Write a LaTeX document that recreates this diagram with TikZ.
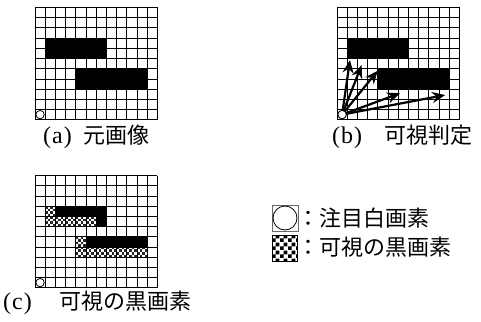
\documentclass[tikz,border=0pt]{standalone}
\usepackage{fontspec}
\newfontfamily\jp{Noto Sans CJK JP}
\newfontfamily\lat{Liberation Serif}
\usetikzlibrary{patterns,arrows.meta}
\pgfdeclarepatternformonly{bigcheck}{\pgfpointorigin}{\pgfqpoint{8pt}{8pt}}{\pgfqpoint{8pt}{8pt}}{%
 \pgfpathrectangle{\pgfpointorigin}{\pgfqpoint{4pt}{4pt}}%
 \pgfpathrectangle{\pgfqpoint{4pt}{4pt}}{\pgfqpoint{4pt}{4pt}}%
 \pgfusepath{fill}}
\def\cs{10.2}
\def\sq{2.55}
\tikzset{
  gridlines/.style={line width=0.8pt},
  pixcircle/.style={circle,draw,line width=0.8pt,minimum size=8.4pt,inner sep=0pt,fill=white},
  vis/.style={-{Stealth[length=13pt,width=11pt]},line width=2.2pt},
  lbl/.style={anchor=west,inner sep=0pt,font=\fontsize{22pt}{26pt}\selectfont},
  chkfill/.style={fill=black!85},
  pics/pixgrid/.style={code={
    \foreach \i in {0,...,12} \draw[gridlines] (\i*\cs,0) -- (\i*\cs,11*\cs);
    \foreach \j in {0,...,11} \draw[gridlines] (0,\j*\cs) -- (12*\cs,\j*\cs);
  }},
}
\begin{document}
\begin{tikzpicture}[x=1pt,y=-1pt]
\useasboundingbox (0,0) rectangle (481,321);
% (a)
\begin{scope}[shift={(35,7.5)}]
  \fill (1*\cs,3*\cs) rectangle (7*\cs,5*\cs);
  \fill (4*\cs,6*\cs) rectangle (11*\cs,8*\cs);
  \pic {pixgrid};
  \node[pixcircle] (ca) at (0.5*\cs,10.5*\cs) {};
\end{scope}
\node[lbl] (la) at (43,137) {{\lat\fontsize{24pt}{26pt}\selectfont(\kern1pt a\kern1pt)}\hspace{12pt}{\jp 元画像}};
% (b)
\begin{scope}[shift={(337,7.5)}]
  \fill (1*\cs,3*\cs) rectangle (7*\cs,5*\cs);
  \fill (4*\cs,6*\cs) rectangle (11*\cs,8*\cs);
  \pic {pixgrid};
  \node[pixcircle] (cb) at (0.5*\cs,10.5*\cs) {};
  \coordinate (t1) at (1.27*\cs,5.15*\cs);
  \coordinate (t2) at (2.42*\cs,5.64*\cs);
  \coordinate (t3) at (3.99*\cs,6.2*\cs);
  \coordinate (t4) at (6.18*\cs,8.41*\cs);
  \coordinate (t5) at (10.6*\cs,8.58*\cs);
  \foreach \t in {t1,t2,t3,t4,t5} \draw[vis] (cb.center) -- (\t);
  \node[pixcircle] at (cb.center) {};
\end{scope}
\node[lbl] (lb) at (332,137) {{\lat\fontsize{24pt}{26pt}\selectfont(\kern1pt b\kern1pt)}\hspace{22pt}{\jp 可視判定}};
% (c)
\begin{scope}[shift={(35,175.5)}]
  \fill (1*\cs,3*\cs) rectangle (7*\cs,5*\cs);
  \fill (4*\cs,6*\cs) rectangle (11*\cs,8*\cs);
  \foreach \cc/\rr in {1/3,1/4,2/4,3/4,4/4,5/4,4/6,4/7,5/7,6/7,7/7,8/7,9/7,10/7}{
    \fill[white] (\cc*\cs,\rr*\cs) rectangle ++(\cs,\cs);
    \foreach \a in {0,1,2,3}{
      \foreach \b in {0,1,2,3}{
        \pgfmathtruncatemacro{\pty}{mod(\a+\b,2)}
        \ifnum\pty=0
          \fill[chkfill] (\cc*\cs+\a*\sq,\rr*\cs+\b*\sq) rectangle ++(\sq,\sq);
        \fi
      }
    }
  }
  \pic {pixgrid};
  \node[pixcircle] (cc) at (0.5*\cs,10.5*\cs) {};
\end{scope}
\node[lbl] (lc) at (3,303) {{\lat\fontsize{24pt}{26pt}\selectfont(\kern1pt c\kern1pt)}\hspace{28pt}{\jp 可視の黒画素}};
% legend
\node[draw=black!60,line width=0.6pt,minimum width=26pt,minimum height=26pt,inner sep=0pt] (kw) at (285,218) {};
\node[circle,draw,line width=0.8pt,minimum size=24pt,inner sep=0pt] (kwc) at (kw.center) {};
\node[draw,line width=1.4pt,pattern=bigcheck,minimum width=25pt,minimum height=26pt,inner sep=0pt] (kb) at (285,248.5) {};
\node[lbl] (tw) at (297,218) {\jp ：注目白画素};
\node[lbl] (tb) at (297,247) {\jp ：可視の黒画素};
\end{tikzpicture}
\end{document}
